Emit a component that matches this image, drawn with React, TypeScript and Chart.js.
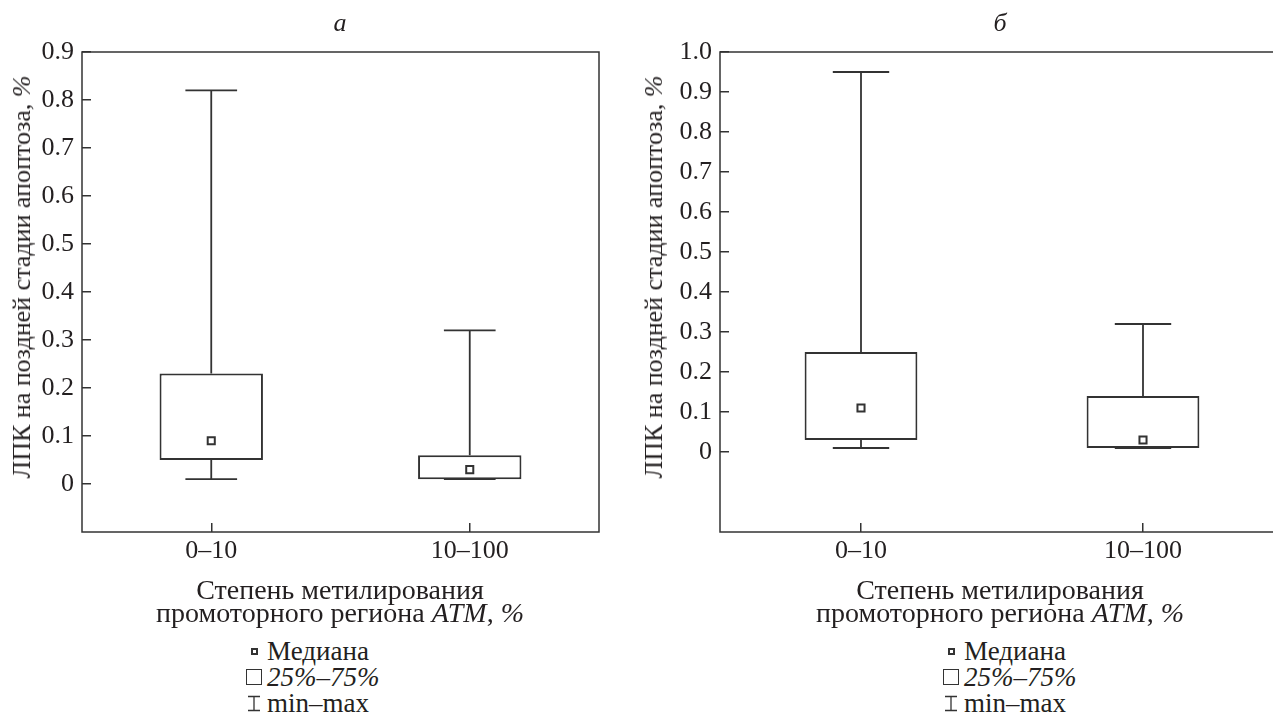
import React, { useEffect, useRef } from 'react';
import { Chart, registerables } from 'chart.js';

Chart.register(...registerables);

// ---------- data ----------
const categories = ['0–10', '10–100'];

// panel "а"
const aMin = [0.01, 0.01];
const aQ1 = [0.05, 0.01];
const aMedian = [0.09, 0.03];
const aQ3 = [0.23, 0.06];
const aMax = [0.82, 0.32];
const aAxisMin = -0.1;
const aAxisMax = 0.9;

// panel "б"
const bMin = [0.01, 0.01];
const bQ1 = [0.03, 0.01];
const bMedian = [0.11, 0.03];
const bQ3 = [0.25, 0.14];
const bMax = [0.95, 0.32];
const bAxisMin = -0.2;
const bAxisMax = 1.0;

const tickStep = 0.1;

const yTitle = 'ЛПК на поздней стадии апоптоза, ';
const xTitleLine1 = 'Степень метилирования';
const xTitleLine2 = 'промоторного региона ';
const legendMedian = 'Медиана';
const legendBox = '25%–75%';
const legendRange = 'min–max';

// ---------- style ----------
const FONT = "'Liberation Serif', 'Times New Roman', serif";
const TEXT = '#231f20';
const LINE = '#333333';
const FS = 26;

function makeWhiskerPlugin(mins: number[], q1s: number[], q3s: number[], maxs: number[]) {
  return {
    id: 'whiskers',
    beforeDatasetsDraw(chart: any) {
      const { ctx, scales } = chart;
      const x = scales.x;
      const y = scales.y;
      const meta = chart.getDatasetMeta(0);
      ctx.save();
      ctx.strokeStyle = LINE;
      ctx.lineWidth = 1.8;
      mins.forEach((mn, i) => {
        const cx = x.getPixelForValue(i);
        const bar = meta.data[i];
        const half = (bar ? bar.width : 100) / 4;
        const yMin = y.getPixelForValue(mn);
        const yMax = y.getPixelForValue(maxs[i]);
        const yQ1 = y.getPixelForValue(q1s[i]);
        const yQ3 = y.getPixelForValue(q3s[i]);
        ctx.beginPath();
        ctx.moveTo(cx, yQ3);
        ctx.lineTo(cx, yMax);
        ctx.moveTo(cx - half, yMax);
        ctx.lineTo(cx + half, yMax);
        ctx.moveTo(cx, yQ1);
        ctx.lineTo(cx, yMin);
        ctx.moveTo(cx - half, yMin);
        ctx.lineTo(cx + half, yMin);
        ctx.stroke();
      });
      ctx.restore();
    },
  };
}

const framePlugin = {
  id: 'frame',
  afterDatasetsDraw(chart: any) {
    const { ctx, chartArea } = chart;
    ctx.save();
    ctx.strokeStyle = LINE;
    ctx.lineWidth = 1.5;
    ctx.strokeRect(chartArea.left, chartArea.top, chartArea.right - chartArea.left, chartArea.bottom - chartArea.top);
    ctx.restore();
  },
};

function tickLabel(v: any) {
  const n = Number(v);
  if (n < -1e-9) return '';
  if (Math.abs(n) < 1e-9) return '0';
  return n.toFixed(1);
}

interface PanelProps {
  left: number;
  width: number;
  height: number;
  yAxisWidth: number;
  padRight: number;
  padTop: number;
  xAxisHeight: number;
  mins: number[];
  q1s: number[];
  medians: number[];
  q3s: number[];
  maxs: number[];
  yMin: number;
  yMax: number;
}

function BoxPanel(p: PanelProps) {
  const ref = useRef<HTMLCanvasElement | null>(null);
  useEffect(() => {
    if (!ref.current) return;
    const boxes = p.q1s.map((q, i) => [q, p.q3s[i]]);
    const chart = new Chart(ref.current, {
      type: 'bar',
      data: {
        labels: categories,
        datasets: [
          {
            type: 'bar',
            data: boxes as any,
            backgroundColor: '#ffffff',
            borderColor: LINE,
            borderWidth: 2,
            borderSkipped: false,
            barPercentage: 0.4,
            categoryPercentage: 1.0,
            order: 2,
          } as any,
          {
            type: 'line',
            data: p.medians,
            showLine: false,
            pointStyle: 'rect',
            pointRadius: 5,
            pointBackgroundColor: '#ffffff',
            pointBorderColor: LINE,
            pointBorderWidth: 2,
            order: 1,
          } as any,
        ],
      },
      options: {
        animation: false,
        responsive: false,
        layout: { padding: { top: p.padTop, right: p.padRight, left: 0, bottom: 0 } },
        plugins: { legend: { display: false }, tooltip: { enabled: false } },
        scales: {
          x: {
            type: 'category',
            offset: true,
            border: { display: false },
            grid: { drawOnChartArea: false, offset: false, tickLength: -9, color: LINE, lineWidth: 1.5 },
            ticks: { color: TEXT, font: { family: FONT, size: FS }, padding: 13, maxRotation: 0 },
            afterFit: (s: any) => { s.height = p.xAxisHeight; },
          },
          y: {
            min: p.yMin,
            max: p.yMax,
            border: { display: false },
            grid: {
              drawOnChartArea: false,
              tickLength: -9,
              lineWidth: 1.5,
              color: (c: any) => (c.tick && c.tick.value < -1e-9 ? 'rgba(0,0,0,0)' : LINE),
            },
            ticks: {
              stepSize: tickStep,
              color: TEXT,
              font: { family: FONT, size: FS },
              padding: 17,
              callback: tickLabel,
            },
            afterFit: (s: any) => { s.width = p.yAxisWidth; },
          },
        },
      } as any,
      plugins: [makeWhiskerPlugin(p.mins, p.q1s, p.q3s, p.maxs), framePlugin],
    });
    return () => chart.destroy();
  }, []);
  return (
    <canvas
      ref={ref}
      width={p.width}
      height={p.height}
      style={{ position: 'absolute', left: p.left, top: 0, width: p.width, height: p.height }}
    />
  );
}

const textBase: React.CSSProperties = {
  position: 'absolute',
  fontFamily: FONT,
  fontSize: FS,
  color: TEXT,
  whiteSpace: 'nowrap',
};

function Centered({ x, y, children, style }: { x: number; y: number; children: any; style?: React.CSSProperties }) {
  return (
    <div style={{ ...textBase, left: x, top: y, transform: 'translate(-50%, -50%)', lineHeight: '30px', ...style }}>
      {children}
    </div>
  );
}

function YTitle({ x, y }: { x: number; y: number }) {
  return (
    <div style={{ ...textBase, left: x, top: y, lineHeight: '30px', transform: 'translate(-50%, -50%) rotate(-90deg)' }}>
      {yTitle}
      <i>%</i>
    </div>
  );
}

function XTitle({ x, y }: { x: number; y: number }) {
  return (
    <div style={{ ...textBase, fontSize: 28, left: x, top: y, lineHeight: '23px', textAlign: 'center', transform: 'translateX(-50%)' }}>
      <div>{xTitleLine1}</div>
      <div>
        {xTitleLine2}
        <i>ATM</i>, <i>%</i>
      </div>
    </div>
  );
}

function Legend({ x, y }: { x: number; y: number }) {
  const row: React.CSSProperties = { display: 'flex', alignItems: 'center', height: 26 };
  const sym: React.CSSProperties = { width: 18, display: 'flex', alignItems: 'center', justifyContent: 'center', marginRight: 4 };
  return (
    <div style={{ ...textBase, fontSize: 27, left: x, top: y, lineHeight: '26px' }}>
      <div style={row}>
        <span style={sym}>
          <span style={{ width: 7, height: 7, border: `2px solid ${LINE}`, boxSizing: 'border-box', display: 'inline-block' }} />
        </span>
        <span>{legendMedian}</span>
      </div>
      <div style={row}>
        <span style={sym}>
          <span style={{ width: 16, height: 16, border: `1.2px solid ${LINE}`, boxSizing: 'border-box', display: 'inline-block' }} />
        </span>
        <i>{legendBox}</i>
      </div>
      <div style={row}>
        <span style={sym}>
          <svg width="16" height="17" viewBox="0 0 16 17">
            <path d="M2 1.5 H14 M8 1.5 V15.5 M2 15.5 H14" stroke={LINE} strokeWidth="1.3" fill="none" />
          </svg>
        </span>
        <span>{legendRange}</span>
      </div>
    </div>
  );
}

export default function App() {
  return (
    <div style={{ position: 'fixed', left: 0, top: 0, width: 1273, height: 727, overflow: 'hidden', background: '#fff' }}>
      <BoxPanel
        left={0}
        width={620}
        height={580}
        yAxisWidth={82}
        padRight={21}
        padTop={52}
        xAxisHeight={48}
        mins={aMin}
        q1s={aQ1}
        medians={aMedian}
        q3s={aQ3}
        maxs={aMax}
        yMin={aAxisMin}
        yMax={aAxisMax}
      />
      <BoxPanel
        left={640}
        width={660}
        height={580}
        yAxisWidth={80}
        padRight={16}
        padTop={52}
        xAxisHeight={48}
        mins={bMin}
        q1s={bQ1}
        medians={bMedian}
        q3s={bQ3}
        maxs={bMax}
        yMin={bAxisMin}
        yMax={bAxisMax}
      />
      <Centered x={340} y={23} style={{ fontStyle: 'italic' }}>а</Centered>
      <Centered x={1000} y={23} style={{ fontStyle: 'italic' }}>б</Centered>
      <YTitle x={22} y={277} />
      <YTitle x={654} y={277} />
      <XTitle x={340} y={578} />
      <XTitle x={1000} y={578} />
      <Legend x={245} y={638} />
      <Legend x={942} y={638} />
    </div>
  );
}
